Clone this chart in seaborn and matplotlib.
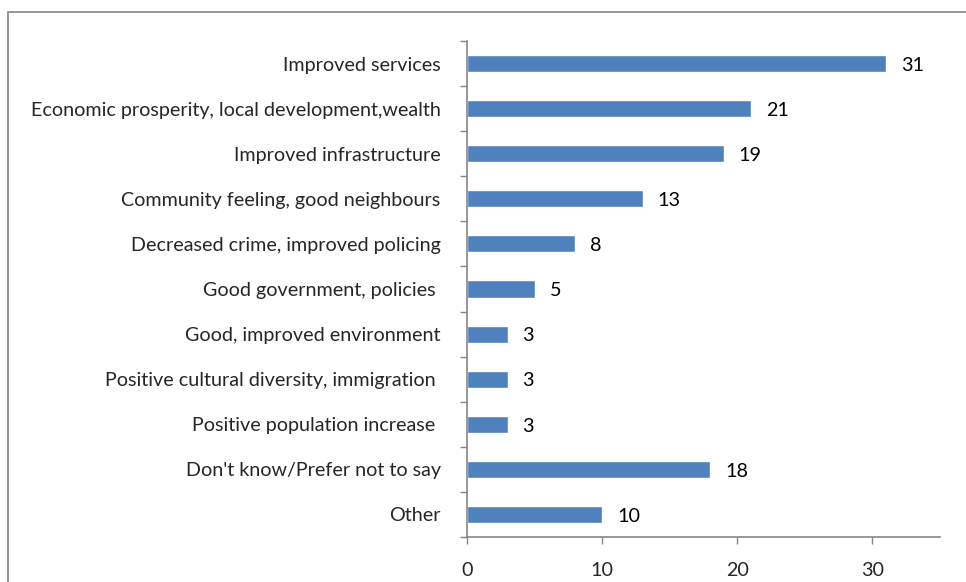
import matplotlib
matplotlib.use("Agg")
import matplotlib.pyplot as plt
import seaborn as sns
import pandas as pd
from matplotlib.patches import Rectangle

categories = [
    "Improved services",
    "Economic prosperity, local development,wealth",
    "Improved infrastructure",
    "Community feeling, good neighbours",
    "Decreased crime, improved policing",
    "Good government, policies ",
    "Good, improved environment",
    "Positive cultural diversity, immigration ",
    "Positive population increase ",
    "Don't know/Prefer not to say",
    "Other",
]
values = [31, 21, 19, 13, 8, 5, 3, 3, 3, 18, 10]
x_ticks = [0, 10, 20, 30]

sns.set_theme(style="white")
plt.rcParams["font.family"] = ["Lato", "DejaVu Sans"]

df = pd.DataFrame({"category": categories, "value": values})

fig = plt.figure(figsize=(9.66, 5.82), dpi=100)
ax = fig.add_axes([467 / 966, 1 - 537 / 582, (940 - 467) / 966, (537 - 41) / 582])

sns.barplot(data=df, y="category", x="value", orient="h", color="#4F81BD",
            saturation=1, width=0.38, ax=ax)

fs = 14.2
for i, v in enumerate(values):
    ax.text(v + 1.1, i + 0.04, str(v), va="center", ha="left", fontsize=fs, color="black")

ax.set_xlim(0, 35)
ax.set_ylim(len(categories) - 0.5, -0.5)
ax.set_xticks(x_ticks)
ax.set_xticklabels([str(t) for t in x_ticks], fontsize=fs)
ax.set_xlabel("")
ax.set_ylabel("")

# category ticks sit on the boundaries between bars
ax.set_yticks([i - 0.5 for i in range(len(categories) + 1)], minor=False)
ax.set_yticklabels([""] * (len(categories) + 1))
ax.set_yticks(range(len(categories)), minor=True)
ax.set_yticklabels(categories, minor=True, fontsize=fs)
ax.tick_params(axis="y", which="minor", length=0, pad=19)
ax.tick_params(axis="y", which="major", length=5, width=1, color="#868686", direction="out", left=True)
ax.tick_params(axis="x", length=5, width=1, color="#868686", direction="out", bottom=True, pad=13)

for side in ["top", "right"]:
    ax.spines[side].set_visible(False)
for side in ["left", "bottom"]:
    ax.spines[side].set_color("#868686")
    ax.spines[side].set_linewidth(1.2)

fig.patches.append(Rectangle((8 / 966, -0.05), 1.2, 1 - 12 / 582 + 0.05,
                             transform=fig.transFigure, fill=False,
                             edgecolor="#868686", linewidth=1.2))

fig.savefig("out.png", dpi=100)
